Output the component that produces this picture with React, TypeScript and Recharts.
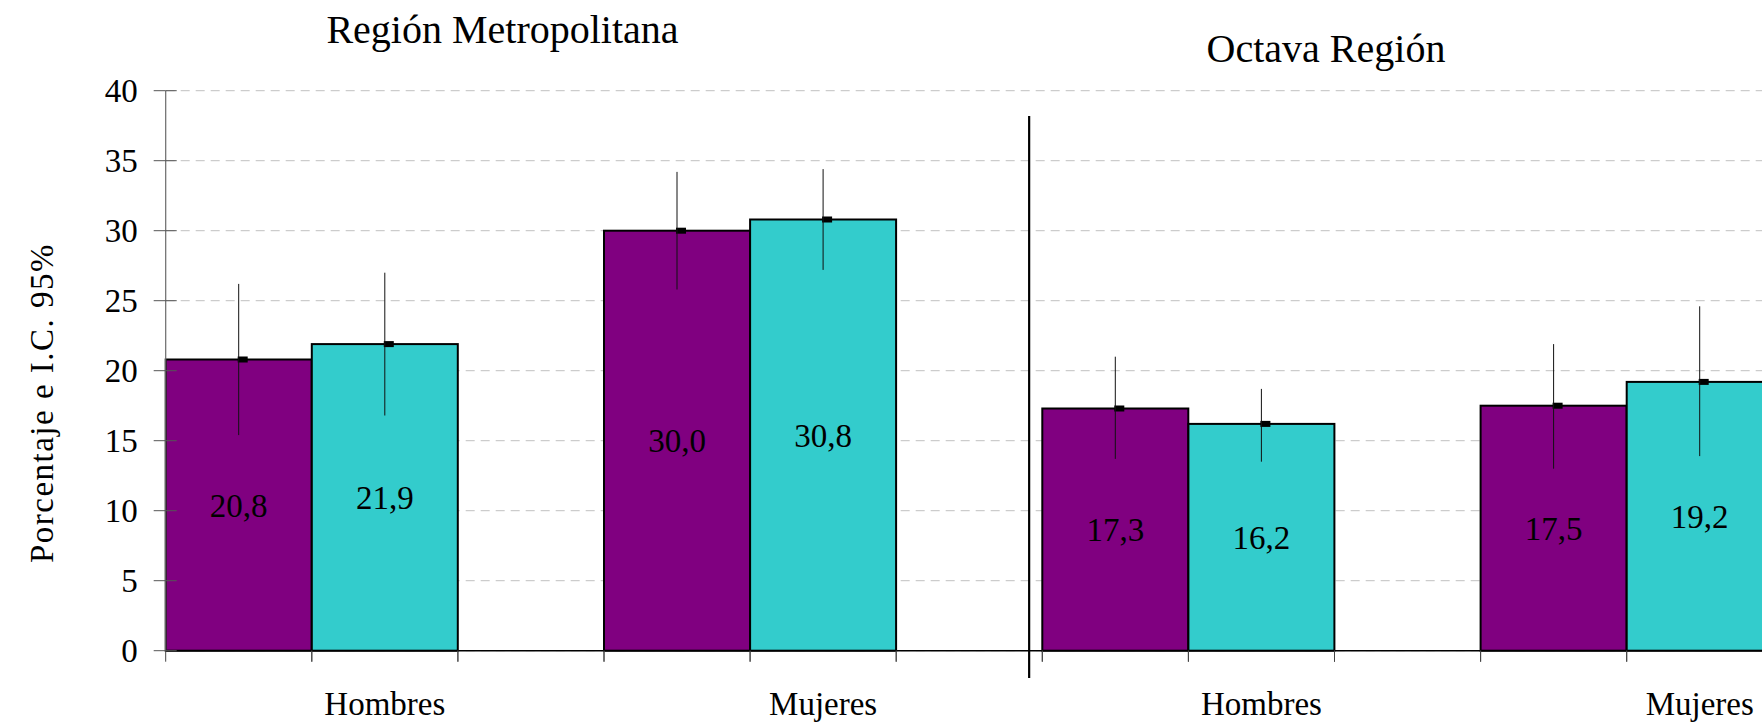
import React from "react";
import {
  BarChart,
  Bar,
  XAxis,
  YAxis,
  CartesianGrid,
  ErrorBar,
  LabelList,
  ReferenceLine,
} from "recharts";

// ---------- data ----------
const regionTitles = ["Región Metropolitana", "Octava Región"];
const groupLabels = ["Hombres", "Mujeres", "Hombres", "Mujeres"];

const seriesAValues = [20.8, 30.0, 17.3, 17.5];
const seriesALow = [15.4, 25.8, 13.7, 13.0];
const seriesAHigh = [26.2, 34.2, 21.0, 21.9];

const seriesBValues = [21.9, 30.8, 16.2, 19.2];
const seriesBLow = [16.8, 27.2, 13.5, 13.9];
const seriesBHigh = [27.0, 34.4, 18.7, 24.6];

const yTicks = [0, 5, 10, 15, 20, 25, 30, 35, 40];
const yAxisTitle = "Porcentaje e I.C. 95%";

// ---------- styles / layout ----------
const SERIES_COLORS = ["#800080", "#33CCCC"];
const FONT = "'Liberation Serif', 'Times New Roman', serif";

const CHART_W = 1790;
const CHART_H = 723;
const MARGIN = { top: 90.7, right: 17.2, bottom: 0, left: 0 };
const Y_AXIS_W = 165.7;
const X_AXIS_H = 72.3;

type Slot = {
  key: string;
  label: string;
  value: number | null;
  err?: [number, number];
  series: number;
};

const slots: Slot[] = [];
groupLabels.forEach((g, i) => {
  slots.push({
    key: `a${i}`,
    label: "",
    value: seriesAValues[i],
    err: [seriesAValues[i] - seriesALow[i], seriesAHigh[i] - seriesAValues[i]],
    series: 0,
  });
  slots.push({
    key: `b${i}`,
    label: g,
    value: seriesBValues[i],
    err: [seriesBValues[i] - seriesBLow[i], seriesBHigh[i] - seriesBValues[i]],
    series: 1,
  });
  if (i < groupLabels.length - 1) {
    slots.push({ key: `gap${i}`, label: "", value: null, series: -1 });
  }
});

const PLOT_W = CHART_W - MARGIN.left - MARGIN.right - Y_AXIS_W;
const SLOT_W = PLOT_W / slots.length;

// separator between the two regions: placed in the gap slot between them,
// shifted from the slot centre by a fraction of the slot width
const SEPARATOR_SLOT = "gap1";
const SEPARATOR_SHIFT = 0.41;
const SEPARATOR_TOP = 38.2;
const SEPARATOR_BOTTOM = -1.95;

const Y_TICK_SIZE = 12;
const Y_TICK_MARGIN = 16;
const Y_TICK_INSIDE = 11;
const X_TICK_SIZE = 11;

const YTick = (props: any) => {
  const { x, y, payload } = props;
  const ax = x + Y_TICK_MARGIN + Y_TICK_SIZE;
  return (
    <g>
      <line x1={ax} x2={ax + Y_TICK_INSIDE} y1={y} y2={y} stroke="#555" strokeWidth={1} />
      <text
        x={x}
        y={y}
        dy="0.35em"
        textAnchor="end"
        fontFamily={FONT}
        fontSize={33}
        fill="#000"
      >
        {payload.value}
      </text>
    </g>
  );
};

const CategoryTick = (props: any) => {
  const { x, y, payload } = props;
  const slot = slots.find((s) => s.key === payload.value);
  const half = SLOT_W / 2;
  return (
    <g>
      <line x1={x - half} x2={x - half} y1={y} y2={y + X_TICK_SIZE} stroke="#444" strokeWidth={1} />
      <line x1={x + half} x2={x + half} y1={y} y2={y + X_TICK_SIZE} stroke="#444" strokeWidth={1} />
      <text
        x={x}
        y={y}
        dy={64}
        textAnchor="middle"
        fontFamily={FONT}
        fontSize={33}
        fill="#000"
      >
        {slot ? slot.label : ""}
      </text>
    </g>
  );
};

const BarShape = (props: any) => {
  const { x, y, width, height, payload } = props;
  if (!payload || payload.value == null || !height) return <g />;
  const fill = SERIES_COLORS[payload.series];
  const cx = x + width / 2;
  return (
    <g>
      <rect x={x} y={y} width={width} height={height} fill={fill} stroke="#000" strokeWidth={2} />
      <rect x={cx - 1} y={y - 3} width={10} height={6} fill="#000" />
    </g>
  );
};

const SeparatorShape = (props: any) => {
  const { x1, y1, x2, y2 } = props;
  const dx = SEPARATOR_SHIFT * SLOT_W;
  return (
    <line x1={x1 + dx} x2={x2 + dx} y1={y1} y2={y2} stroke="#000" strokeWidth={2.2} />
  );
};

const fmt = (v: any) => (v == null ? "" : Number(v).toFixed(1).replace(".", ","));

export default function App() {
  return (
    <div
      style={{
        position: "fixed",
        left: 0,
        top: 0,
        width: 1762,
        height: 723,
        overflow: "hidden",
        background: "#fff",
      }}
    >
      <BarChart
        width={CHART_W}
        height={CHART_H}
        data={slots}
        margin={MARGIN}
        barCategoryGap={0}
        barGap={0}
      >
        <CartesianGrid
          horizontal={true}
          vertical={false}
          stroke="#c0c0c0"
          strokeDasharray="9 6"
        />
        <XAxis
          xAxisId="cat"
          dataKey="key"
          type="category"
          height={X_AXIS_H}
          axisLine={{ stroke: "#000", strokeWidth: 1.5 }}
          tickLine={false}
          tickSize={0}
          tickMargin={0}
          tick={<CategoryTick />}
          interval={0}
        />
        <YAxis
          type="number"
          domain={[0, 40]}
          ticks={yTicks}
          width={Y_AXIS_W}
          interval={0}
          axisLine={{ stroke: "#6a6a6a", strokeWidth: 1.2 }}
          tickLine={{ stroke: "#555", strokeWidth: 1 }}
          tickSize={Y_TICK_SIZE}
          tickMargin={Y_TICK_MARGIN}
          tick={<YTick />}
        />
        <Bar
          xAxisId="cat"
          dataKey="value"
          isAnimationActive={false}
          shape={<BarShape />}
        >
          <ErrorBar
            dataKey="err"
            width={0}
            stroke="#111"
            strokeWidth={1}
            direction="y"
          />
          <LabelList
            dataKey="value"
            position="center"
            formatter={fmt}
            fill="#000"
            fontSize={33}
            fontFamily={FONT}
          />
        </Bar>
        <ReferenceLine
          xAxisId="cat"
          segment={[
            { x: SEPARATOR_SLOT, y: SEPARATOR_TOP },
            { x: SEPARATOR_SLOT, y: SEPARATOR_BOTTOM },
          ]}
          shape={(p: any) => <SeparatorShape {...p} />}
          ifOverflow="visible"
        />
      </BarChart>
      <svg
        width={1762}
        height={723}
        style={{ position: "absolute", left: 0, top: 0, pointerEvents: "none" }}
      >
        <text x={502.5} y={43} textAnchor="middle" fontFamily={FONT} fontSize={40} fill="#000">
          {regionTitles[0]}
        </text>
        <text x={1326} y={62} textAnchor="middle" fontFamily={FONT} fontSize={40} fill="#000">
          {regionTitles[1]}
        </text>
        <text
          x={53}
          y={403}
          transform="rotate(-90, 53, 403)"
          textAnchor="middle"
          fontFamily={FONT}
          fontSize={33}
          letterSpacing={1.5}
          fill="#000"
        >
          {yAxisTitle}
        </text>
      </svg>
    </div>
  );
}
